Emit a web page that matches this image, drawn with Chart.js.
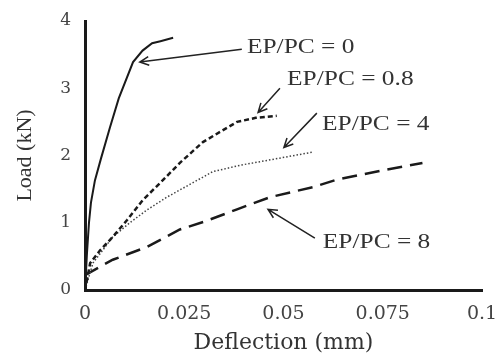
<!DOCTYPE html>
<html>
<head>
<meta charset="utf-8">
<script src="https://cdn.jsdelivr.net/npm/chart.js@4"></script>
<style>
  html, body { margin: 0; padding: 0; background: #fff; }
  #wrap { width: 496px; height: 356px; }
</style>
</head>
<body>
<div id="wrap"><canvas id="chart" width="496" height="356"></canvas></div>
<script>
// curves: deflection (mm) -> load (kN)
var ep0X  = [0, 0.0005, 0.001, 0.0015, 0.0025, 0.004, 0.0063, 0.0085, 0.0121, 0.0145, 0.0169, 0.019, 0.0222];
var ep0Y  = [0, 0.55, 1.0, 1.3, 1.63, 1.95, 2.42, 2.85, 3.39, 3.56, 3.67, 3.7, 3.75];
var ep08X = [0, 0.0013, 0.0038, 0.007, 0.0106, 0.0146, 0.0189, 0.0239, 0.0297, 0.0383, 0.043, 0.0483];
var ep08Y = [0, 0.40, 0.59, 0.79, 1.04, 1.34, 1.59, 1.89, 2.2, 2.5, 2.56, 2.59];
var ep4X  = [0, 0.002, 0.007, 0.0113, 0.0156, 0.0206, 0.0264, 0.0322, 0.0395, 0.049, 0.0574];
var ep4Y  = [0, 0.4, 0.79, 1.0, 1.19, 1.38, 1.57, 1.76, 1.86, 1.96, 2.05];
var ep8X  = [0, 0.0045, 0.007, 0.0156, 0.0239, 0.0307, 0.0383, 0.0466, 0.0574, 0.0634, 0.075, 0.085];
var ep8Y  = [0.22, 0.37, 0.45, 0.64, 0.9, 1.03, 1.2, 1.38, 1.53, 1.64, 1.78, 1.89];

var xTicks = [0, 0.025, 0.05, 0.075, 0.1];
var yTicks = [0, 1, 2, 3, 4];

// callout labels and arrows, in data units
var noteText  = ['EP/PC = 0', 'EP/PC = 0.8', 'EP/PC = 4', 'EP/PC = 8'];
var noteX     = [0.0408, 0.0509, 0.0597, 0.0599];
var noteY     = [3.60, 3.12, 2.45, 0.70];
var arrowFrom = [[0.0395, 3.58], [0.0491, 3.0], [0.0584, 2.63], [0.0579, 0.77]];
var arrowTo   = [[0.0138, 3.39], [0.0436, 2.64], [0.0501, 2.12], [0.0461, 1.20]];

function pts(xs, ys) {
  return xs.map((x, i) => ({ x: x, y: ys[i] }));
}

var serif = "'Liberation Serif', 'DejaVu Serif', serif";
var wide = "'DejaVu Serif', serif"; // the source figure is stretched sideways

// draws the text callouts with their open arrowheads
var callouts = {
  id: 'callouts',
  afterDatasetsDraw(chart) {
    var ctx = chart.ctx, xs = chart.scales.x, ys = chart.scales.y;
    ctx.save();
    ctx.strokeStyle = '#222';
    ctx.fillStyle = '#222';
    ctx.lineWidth = 1.5;
    arrowFrom.forEach((f, i) => {
      var x1 = xs.getPixelForValue(f[0]), y1 = ys.getPixelForValue(f[1]);
      var x2 = xs.getPixelForValue(arrowTo[i][0]), y2 = ys.getPixelForValue(arrowTo[i][1]);
      ctx.beginPath();
      ctx.moveTo(x1, y1);
      ctx.lineTo(x2, y2);
      var a = Math.atan2(y2 - y1, x2 - x1);
      var h = 10;
      ctx.moveTo(x2 - h * Math.cos(a - 0.45), y2 - h * Math.sin(a - 0.45));
      ctx.lineTo(x2, y2);
      ctx.lineTo(x2 - h * Math.cos(a + 0.45), y2 - h * Math.sin(a + 0.45));
      ctx.stroke();
    });
    ctx.font = '20px ' + serif;
    ctx.textBaseline = 'middle';
    ctx.textAlign = 'left';
    ctx.fillStyle = '#333';
    noteText.forEach((t, i) => {
      ctx.save();
      ctx.translate(xs.getPixelForValue(noteX[i]), ys.getPixelForValue(noteY[i]));
      ctx.scale(1.27, 1);
      ctx.fillText(t, 0, 0);
      ctx.restore();
    });
    ctx.restore();
  }
};

new Chart(document.getElementById('chart'), {
  type: 'scatter',
  data: {
    datasets: [
      { data: pts(ep0X, ep0Y),  showLine: true, borderColor: '#1a1a1a', borderWidth: 2, pointRadius: 0 },
      { data: pts(ep08X, ep08Y), showLine: true, borderColor: '#1a1a1a', borderWidth: 2.5, borderDash: [5, 3], pointRadius: 0 },
      { data: pts(ep4X, ep4Y),  showLine: true, borderColor: '#444', borderWidth: 1.5, borderDash: [1.5, 2], pointRadius: 0 },
      { data: pts(ep8X, ep8Y),  showLine: true, borderColor: '#1a1a1a', borderWidth: 2.5, borderDash: [15, 8], pointRadius: 0 }
    ]
  },
  options: {
    responsive: false,
    animation: false,
    layout: { padding: { top: 21, right: 14, left: 0, bottom: 0 } },
    plugins: { legend: { display: false }, tooltip: { enabled: false } },
    scales: {
      x: {
        type: 'linear', min: 0, max: 0.1,
        afterBuildTicks: (s) => { s.ticks = xTicks.map(v => ({ value: v })); },
        // fixed band height; keep the last label from pushing the plot inward
        afterFit: (s) => { s.height = 66; s.paddingRight = 10; s.paddingLeft = 0; },
        grid: { display: false, drawTicks: true, tickLength: 5, tickColor: '#222' },
        border: { display: true, color: '#1a1a1a', width: 3 },
        ticks: { color: '#444', font: { family: wide, size: 19 }, padding: 8, maxRotation: 0,
                 callback: (v) => String(v) },
        title: { display: true, text: 'Deflection (mm)', color: '#333', font: { family: wide, size: 22 }, padding: { top: 0, bottom: 0 } }
      },
      y: {
        type: 'linear', min: 0, max: 4,
        afterBuildTicks: (s) => { s.ticks = yTicks.map(v => ({ value: v })); },
        afterFit: (s) => { s.width = 85; },
        grid: { display: false, drawTicks: true, tickLength: 8, tickColor: '#222' },
        border: { display: true, color: '#1a1a1a', width: 3 },
        ticks: { color: '#444', font: { family: wide, size: 17 }, padding: 6 },
        title: { display: true, text: 'Load (kN)', color: '#333', font: { family: serif, size: 22 }, padding: { top: 12, bottom: 0 } }
      }
    }
  },
  plugins: [callouts]
});
</script>
</body>
</html>
